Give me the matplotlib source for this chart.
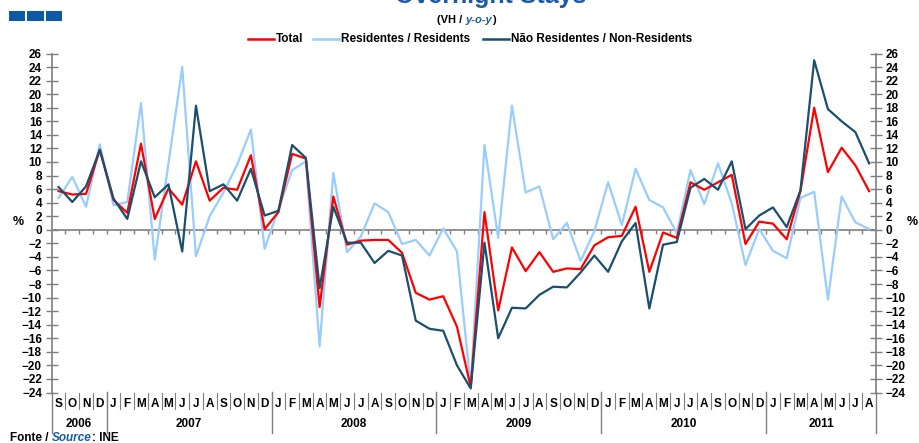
import numpy as np
import matplotlib
matplotlib.use('Agg')
import matplotlib.pyplot as plt
from matplotlib.patches import Rectangle
from matplotlib.lines import Line2D
import matplotlib.transforms as mtransforms

plt.rcParams['font.family'] = ['Liberation Sans', 'DejaVu Sans']
plt.rcParams['font.weight'] = 'bold'

# monthly y-o-y change, Sep 2006 .. Aug 2011
months = ['S', 'O', 'N', 'D'] + ['J', 'F', 'M', 'A', 'M', 'J', 'J', 'A', 'S', 'O', 'N', 'D'] * 4 + ['J', 'F', 'M', 'A', 'M', 'J', 'J', 'A']
years = ['2006', '2007', '2008', '2009', '2010', '2011']

total = [5.7, 5.2, 5.3, 11.8, 4.4, 2.5, 12.7, 1.6, 6.1, 3.7,
         10.1, 4.3, 6.2, 5.9, 11.0, 0.1, 2.6, 11.2, 10.5, -11.4,
         4.9, -2.2, -1.6, -1.5, -1.5, -3.4, -9.3, -10.3, -9.8, -14.3,
         -23.2, 2.6, -11.9, -2.6, -6.1, -3.3, -6.2, -5.7, -5.8, -2.3,
         -1.1, -0.9, 3.4, -6.2, -0.4, -1.2, 7.0, 5.9, 7.0, 8.1,
         -2.1, 1.2, 0.9, -1.4, 5.7, 18.0, 8.5, 12.1, 9.5, 5.7]
residents = [4.7, 7.8, 3.4, 12.6, 3.6, 4.1, 18.7, -4.4, 9.8, 24.0,
             -3.9, 2.0, 5.5, 9.6, 14.8, -2.8, 3.0, 8.8, 10.1, -17.2,
             8.4, -3.3, -1.0, 3.9, 2.6, -2.1, -1.5, -3.8, 0.2, -3.2,
             -23.2, 12.5, -1.2, 18.3, 5.5, 6.4, -1.4, 1.0, -4.6, -0.2,
             7.0, 0.7, 9.0, 4.4, 3.3, -0.5, 8.8, 3.8, 9.8, 3.9,
             -5.2, 0.1, -3.1, -4.2, 4.7, 5.6, -10.3, 4.9, 1.1, 0.1]
nonres = [6.3, 4.1, 6.4, 11.8, 4.6, 1.6, 10.1, 4.8, 6.7, -3.2,
          18.3, 5.7, 6.7, 4.3, 9.0, 2.1, 2.8, 12.5, 10.6, -8.6,
          3.4, -1.9, -1.9, -4.9, -3.1, -3.8, -13.4, -14.6, -14.9, -20.0,
          -23.4, -1.9, -16.0, -11.5, -11.6, -9.6, -8.4, -8.5, -6.3, -3.8,
          -6.2, -1.7, 1.0, -11.6, -2.2, -1.8, 6.2, 7.5, 5.9, 10.1,
          0.1, 2.1, 3.3, 0.4, 5.8, 25.0, 17.8, 16.0, 14.4, 9.8]

RED = '#ff0000'
LIGHT = '#99ccff'
DARK = '#1b4f6e'
BLUE = '#1a5aa6'
GREY = '#7f7f7f'

W, H = 919, 443
fig = plt.figure(figsize=(W / 100, H / 100), dpi=100)

# axes box in pixel terms
x0, x1, ytop, ybot = 51.7, 876.0, 53.5, 392.5
ax = fig.add_axes([x0 / W, (H - ybot) / H, (x1 - x0) / W, (ybot - ytop) / H])

x = np.arange(len(months))
ax.plot(x, residents, color=LIGHT, lw=1.6, zorder=3)
ax.plot(x, total, color=RED, lw=1.6, zorder=4)
ax.plot(x, nonres, color=DARK, lw=1.6, zorder=5)

ax.set_xlim(-0.5, len(months) - 0.5)
ax.set_ylim(-24, 26)
ax.set_xticks([])
ax.set_yticks(np.arange(-24, 27, 2))
ax.tick_params(axis='y', which='both', direction='inout', length=8, width=1,
               color=GREY, labelsize=8.5, pad=3, left=True, right=True,
               labelleft=True, labelright=True)
for lab in ax.get_yticklabels():
    lab.set_fontweight('bold')
for s in ['top', 'bottom']:
    ax.spines[s].set_visible(False)
for s in ['left', 'right']:
    ax.spines[s].set_color(GREY)
    ax.spines[s].set_linewidth(1.2)

# zero line with small category ticks
ax.axhline(0, color=GREY, lw=1.2, zorder=2)
bounds = np.arange(0.5, len(months) - 0.5, 1)
ax.vlines(bounds, -0.6, 0, color=GREY, lw=1, zorder=2)

# month / year labels under the plot
def ay(py):
    return (ybot - py) / (ybot - ytop)

tr = mtransforms.blended_transform_factory(ax.transData, ax.transAxes)
for i, m in enumerate(months):
    ax.text(i, ay(404), m, transform=tr, ha='center', va='center', fontsize=8.5, fontweight='bold')
for b in bounds:
    ax.plot([b, b], [ay(393), ay(409)], transform=tr, color=GREY, lw=0.8, clip_on=False)

year_edges = [-0.5, 3.5, 15.5, 27.5, 39.5, 51.5, 59.5]
for e in year_edges:
    ax.plot([e, e], [ay(392), ay(433)], transform=tr, color=GREY, lw=1, clip_on=False)
for k, yr in enumerate(years):
    mid = (year_edges[k] + year_edges[k + 1]) / 2
    ax.text(mid, ay(424), yr, transform=tr, ha='center', va='center', fontsize=8.5, fontweight='bold')

# % labels
fig.text(18 / W, 1 - 222 / H, '%', ha='center', va='center', fontsize=9, fontweight='bold')
fig.text(912 / W, 1 - 222 / H, '%', ha='center', va='center', fontsize=9, fontweight='bold')

# logo squares
for lx in [8.7, 27.3, 46.0]:
    fig.patches.append(Rectangle((lx / W, 1 - 21 / H), 16.3 / W, 9.5 / H,
                                 transform=fig.transFigure, color='#0c5aa6', lw=0))

# title (cut at the top edge as in the source)
fig.text(491 / W, 1 - 3 / H, 'Overnight Stays', ha='center', va='baseline',
         fontsize=18, fontweight='bold', color=BLUE)

renderer = fig.canvas.get_renderer()

def put_pieces(px, py, pieces, fs):
    cur = px
    for txt, col, style in pieces:
        t = fig.text(cur / W, 1 - py / H, txt, ha='left', va='baseline', fontsize=fs,
                     fontweight='bold', color=col, fontstyle=style)
        bb = t.get_window_extent(renderer=renderer)
        cur += bb.width
    return cur

# subtitle
put_pieces(437, 23, [('(VH / ', 'black', 'normal'), ('y-o-y', BLUE, 'italic'),
                     (')', 'black', 'normal')], 8)

# legend
leg = [(248, 'Total', RED), (313, 'Residentes / Residents', LIGHT),
       (483, 'Não Residentes / Non-Residents', DARK)]
for lx, name, col in leg:
    fig.lines.append(Line2D([lx / W, (lx + 26) / W], [1 - 38.5 / H, 1 - 38.5 / H],
                            transform=fig.transFigure, color=col, lw=1.8))
    fig.text((lx + 28) / W, 1 - 38.5 / H, name, ha='left', va='center',
             fontsize=8.5, fontweight='bold')

# source
put_pieces(10, 441, [('Fonte / ', 'black', 'normal'), ('Source', BLUE, 'italic'),
                     (': INE', 'black', 'normal')], 8.5)

fig.savefig('out.png', dpi=100)
